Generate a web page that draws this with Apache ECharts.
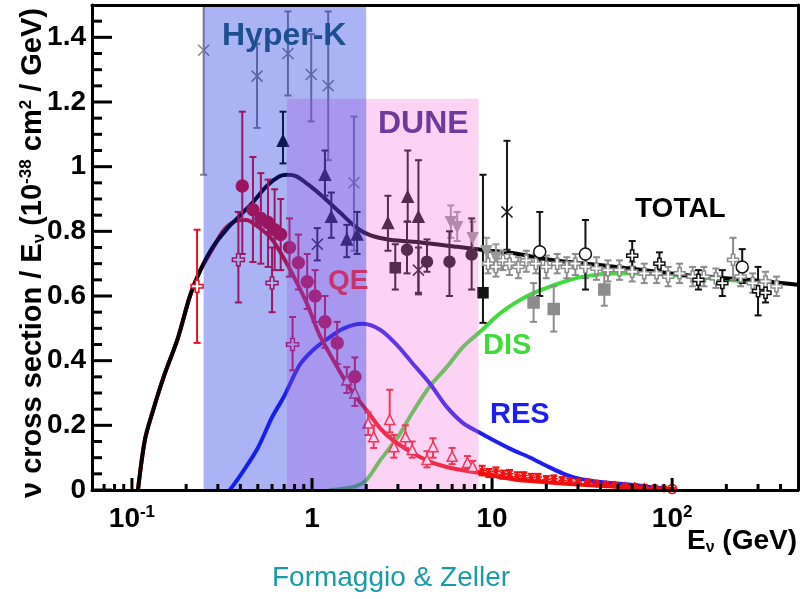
<!DOCTYPE html>
<html>
<head>
<meta charset="utf-8">
<script src="https://cdn.jsdelivr.net/npm/echarts@6/dist/echarts.min.js"></script>
<style>
  html, body { margin: 0; padding: 0; background: #fff; }
  #chart { width: 800px; height: 599px; }
</style>
</head>
<body>
<div id="chart"></div>
<script>
var FONT = '"Liberation Sans", Arial, sans-serif';

// axis ranges and ticks
var xMin = 0.06, xMax = 500, yMin = 0, yMax = 1.5;
var xMajorTicks = [0.1, 1, 10, 100];
var xMajorLabels = ['{b|10}{s|-1}', '{b|1}', '{b|10}', '{b|10}{s|2}'];
var xMinorTicks = [0.07, 0.08, 0.09, 0.2, 0.3, 0.4, 0.5, 0.6, 0.7, 0.8, 0.9,
  2, 3, 4, 5, 6, 7, 8, 9, 20, 30, 40, 50, 60, 70, 80, 90, 200, 300, 400];
var yMajorTicks = [0, 0.2, 0.4, 0.6, 0.8, 1, 1.2, 1.4];
var yMinorTicks = [0.05, 0.1, 0.15, 0.25, 0.3, 0.35, 0.45, 0.5, 0.55, 0.65, 0.7, 0.75,
  0.85, 0.9, 0.95, 1.05, 1.1, 1.15, 1.25, 1.3, 1.35, 1.45];

// experiment ranges (GeV): low, high, top of box
var hyperK = [0.25, 2.0, 1.5];
var dune = [0.725, 8.4, 1.21];

// model curves
var totE = [0.108, 0.118, 0.13, 0.15, 0.18, 0.21, 0.24, 0.28, 0.34, 0.4, 0.47, 0.56, 0.66, 0.73, 0.82, 0.95, 1.15, 1.43, 1.78, 2.1, 2.7, 4.1, 6.4, 9.7, 13, 21, 49, 112, 262, 500];
var totY = [0, 0.155, 0.24, 0.35, 0.47, 0.6, 0.68, 0.75, 0.81, 0.85, 0.89, 0.94, 0.97, 0.975, 0.97, 0.945, 0.907, 0.858, 0.81, 0.788, 0.774, 0.765, 0.752, 0.74, 0.733, 0.712, 0.69, 0.666, 0.65, 0.635];

var qeE = [0.108, 0.118, 0.13, 0.15, 0.18, 0.21, 0.24, 0.28, 0.32, 0.37, 0.43, 0.5, 0.6, 0.7, 0.8, 0.94, 1.1, 1.35, 1.6, 1.8, 2.0, 2.4, 2.8, 3.6, 4.5, 5.6, 7, 8.6, 11, 14, 20, 30, 50, 70, 100];
var qeY = [0, 0.155, 0.24, 0.35, 0.47, 0.6, 0.68, 0.745, 0.8, 0.83, 0.835, 0.815, 0.775, 0.715, 0.655, 0.575, 0.48, 0.39, 0.32, 0.28, 0.248, 0.19, 0.155, 0.115, 0.088, 0.071, 0.06, 0.052, 0.04, 0.031, 0.024, 0.017, 0.01, 0.005, 0.002];

var resE = [0.35, 0.4, 0.5, 0.6, 0.7, 0.85, 1.0, 1.2, 1.5, 1.9, 2.4, 3, 3.6, 4.5, 5.6, 6.9, 8.6, 10.5, 13, 16, 20, 25, 30, 40, 55, 70, 85, 100];
var resY = [0, 0.045, 0.13, 0.225, 0.29, 0.385, 0.43, 0.465, 0.5, 0.514, 0.495, 0.445, 0.393, 0.33, 0.257, 0.207, 0.176, 0.15, 0.124, 0.102, 0.075, 0.05, 0.036, 0.025, 0.018, 0.012, 0.006, 0];

var disE = [1.25, 1.5, 1.75, 2, 2.4, 3, 3.6, 4.5, 5.6, 6.9, 8.6, 11, 14, 18, 27, 35, 50, 80, 130, 200, 300];
var disY = [0, 0.004, 0.012, 0.03, 0.093, 0.164, 0.238, 0.32, 0.38, 0.443, 0.49, 0.545, 0.585, 0.615, 0.65, 0.663, 0.67, 0.668, 0.66, 0.65, 0.642];

// measurements: [E, value, low, high]
var grayX = [[0.25, 1.36, 0.975, 1.5], [0.495, 1.28, 1.12, 1.38], [0.735, 1.35, 1.22, 1.48], [0.99, 1.285, 1.14, 1.41], [1.23, 1.25, 1.02, 1.48], [1.71, 0.95, 0.74, 1.155]];
var blackX = [[1.07, 0.76, 0.71, 0.81], [3.9, 0.68, 0.605, 0.75], [12.1, 0.86, 0.743, 1.08]];
var blackTri = [[0.69, 1.08, 1.01, 1.17], [1.18, 0.975, 0.91, 1.05], [1.28, 0.845, 0.78, 0.92], [1.56, 0.775, 0.72, 0.82], [1.78, 0.79, 0.73, 0.86], [2.64, 0.826, 0.74, 0.91], [3.4, 0.907, 0.83, 1.05], [3.9, 0.845, 0.61, 1.02]];
var blackDot = [[3.37, 0.743, 0.67, 0.83], [4.35, 0.706, 0.675, 0.775], [5.8, 0.706, 0.6, 0.8], [7.7, 0.728, 0.62, 0.84]];
var blackSq = [[2.9, 0.687, 0.62, 0.76], [8.9, 0.61, 0.517, 0.975]];
var grayTriDown = [[5.9, 0.83, 0.78, 0.88], [6.4, 0.814, 0.77, 0.86], [7.8, 0.78, 0.73, 0.83], [9.3, 0.74, 0.7, 0.78], [10.5, 0.72, 0.68, 0.76]];
var graySq = [[17, 0.58, 0.52, 0.64], [22, 0.56, 0.49, 0.63], [42, 0.62, 0.57, 0.68]];
var openCircle = [[18.4, 0.737, 0.6, 0.86], [33, 0.73, 0.62, 0.835], [245, 0.69, 0.64, 0.745]];
var grayCross = [[9.5, 0.7, 0.67, 0.74], [10.5, 0.69, 0.66, 0.72], [11.5, 0.71, 0.68, 0.74], [12.5, 0.7, 0.665, 0.73], [14, 0.69, 0.655, 0.72], [15.5, 0.71, 0.675, 0.74], [17.5, 0.7, 0.67, 0.73], [20, 0.69, 0.655, 0.725], [23, 0.7, 0.67, 0.73], [26, 0.69, 0.655, 0.72], [29, 0.7, 0.665, 0.73], [33, 0.69, 0.655, 0.72], [38, 0.685, 0.65, 0.72], [44, 0.68, 0.645, 0.71], [51, 0.68, 0.65, 0.71], [60, 0.675, 0.645, 0.705], [70, 0.67, 0.64, 0.7], [82, 0.67, 0.64, 0.7], [95, 0.66, 0.63, 0.69], [110, 0.67, 0.64, 0.7], [130, 0.66, 0.63, 0.69], [150, 0.66, 0.63, 0.69], [175, 0.655, 0.625, 0.685], [218, 0.712, 0.65, 0.78], [240, 0.66, 0.63, 0.69], [280, 0.64, 0.61, 0.67], [330, 0.645, 0.615, 0.675], [380, 0.63, 0.6, 0.66]];
var blackCross = [[60, 0.725, 0.69, 0.77], [85, 0.7, 0.665, 0.735], [140, 0.65, 0.62, 0.68], [190, 0.64, 0.6, 0.68], [300, 0.615, 0.54, 0.69], [330, 0.61, 0.58, 0.65]];
var qeDot = [[0.41, 0.94, 0.73, 1.17], [0.47, 0.867, 0.705, 1.03], [0.52, 0.84, 0.7, 0.98], [0.57, 0.827, 0.69, 0.96], [0.62, 0.805, 0.68, 0.93], [0.67, 0.79, 0.68, 0.9], [0.75, 0.75, 0.66, 0.84], [0.84, 0.703, 0.62, 0.79], [0.94, 0.644, 0.56, 0.73], [1.04, 0.6, 0.52, 0.68], [1.18, 0.52, 0.44, 0.6], [1.38, 0.455, 0.39, 0.52], [1.73, 0.35, 0.29, 0.41]];
var qeCross = [[0.23, 0.63, 0.455, 0.805], [0.39, 0.712, 0.58, 0.86], [0.6, 0.64, 0.55, 0.75], [0.78, 0.45, 0.37, 0.535]];
var qeTri = [[1.56, 0.34, 0.3, 0.38], [1.73, 0.3, 0.26, 0.34], [2.05, 0.207, 0.17, 0.24], [2.2, 0.165, 0.13, 0.2], [2.7, 0.218, 0.178, 0.31], [2.85, 0.134, 0.1, 0.17], [3.3, 0.165, 0.13, 0.2], [3.6, 0.125, 0.1, 0.15], [4.35, 0.094, 0.07, 0.12], [4.7, 0.134, 0.1, 0.16], [6.0, 0.104, 0.08, 0.13], [7.3, 0.085, 0.065, 0.105], [7.8, 0.073, 0.055, 0.09]];
var qeStar = [[8.8, 0.06, 0.045, 0.075], [9.6, 0.052, 0.04, 0.065], [10.5, 0.058, 0.045, 0.07], [11.5, 0.048, 0.035, 0.06], [12.5, 0.05, 0.04, 0.062], [13.8, 0.042, 0.03, 0.055], [15, 0.045, 0.035, 0.055], [16.5, 0.038, 0.028, 0.05], [18, 0.04, 0.03, 0.05], [20, 0.033, 0.024, 0.043], [22, 0.035, 0.025, 0.045], [24.5, 0.03, 0.02, 0.04], [27, 0.028, 0.02, 0.036], [30, 0.025, 0.017, 0.033], [34, 0.024, 0.016, 0.032], [38, 0.02, 0.013, 0.027], [43, 0.018, 0.012, 0.025], [48, 0.016, 0.01, 0.022], [55, 0.013, 0.008, 0.019], [62, 0.012, 0.007, 0.017], [70, 0.01, 0.005, 0.015], [80, 0.008, 0.004, 0.012], [90, 0.005, 0.002, 0.009]];
var qeOpenCircle = [[100, 0.003, 0, 0.006]];

var SYM_X = 'path://M0,0L10,10M10,0L0,10';
var SYM_CROSS = 'path://M3.5,0H6.5V3.5H10V6.5H6.5V10H3.5V6.5H0V3.5H3.5Z';
var SYM_STAR = 'path://M5,0V10M0,5H10M1.5,1.5L8.5,8.5M8.5,1.5L1.5,8.5';

function pairs(xs, ys) {
  return xs.map(function (x, i) { return [x, ys[i]]; });
}

function curve(xs, ys, color) {
  return {
    type: 'line', data: pairs(xs, ys), smooth: 0.3,
    symbol: 'none', silent: true, z: 2,
    lineStyle: { color: color, width: 4 }
  };
}

function errorBars(pts, color) {
  return {
    type: 'custom', data: pts, silent: true, z: 3,
    encode: { x: 0, y: 1 },
    renderItem: function (params, api) {
      var e = api.value(0);
      var lo = api.coord([e, api.value(2)]);
      var hi = api.coord([e, api.value(3)]);
      var st = { stroke: color, lineWidth: 2 };
      return {
        type: 'group', children: [
          { type: 'line', shape: { x1: lo[0], y1: lo[1], x2: hi[0], y2: hi[1] }, style: st },
          { type: 'line', shape: { x1: lo[0] - 3.5, y1: lo[1], x2: lo[0] + 3.5, y2: lo[1] }, style: st },
          { type: 'line', shape: { x1: hi[0] - 3.5, y1: hi[1], x2: hi[0] + 3.5, y2: hi[1] }, style: st }
        ]
      };
    }
  };
}

function markers(pts, symbol, size, fill, stroke) {
  return {
    type: 'scatter', silent: true, z: 3,
    data: pts.map(function (p) { return [p[0], p[1]]; }),
    symbol: symbol, symbolSize: size,
    itemStyle: { color: fill, borderColor: stroke, borderWidth: 1.5, opacity: 1 }
  };
}

function band(b, color, z) {
  return {
    type: 'custom', data: [b], silent: true, z: z,
    encode: { x: [0, 1], y: 2 },
    renderItem: function (params, api) {
      var a = api.coord([api.value(0), api.value(2)]);
      var c = api.coord([api.value(1), 0]);
      return {
        type: 'rect',
        shape: { x: a[0], y: a[1], width: c[0] - a[0], height: c[1] - a[1] },
        style: { fill: color }
      };
    }
  };
}

// inward axis ticks (ROOT style), placed through the axis scales
function xTicks(vals, len) {
  return {
    type: 'custom', silent: true, z: 6,
    data: vals.map(function (v) { return [v, 0.7]; }),
    encode: { x: 0, y: 1 },
    renderItem: function (params, api) {
      var c = api.coord([api.value(0), yMin]);
      return {
        type: 'group', children: [
          { type: 'line', shape: { x1: c[0], y1: c[1], x2: c[0], y2: c[1] - len }, style: { stroke: '#000000', lineWidth: 3 } }
        ]
      };
    }
  };
}
function yTicks(vals, len) {
  return {
    type: 'custom', silent: true, z: 6,
    data: vals.map(function (v) { return [1, v]; }),
    encode: { x: 0, y: 1 },
    renderItem: function (params, api) {
      var c = api.coord([xMin, api.value(1)]);
      return {
        type: 'group', children: [
          { type: 'line', shape: { x1: c[0], y1: c[1], x2: c[0] + len, y2: c[1] }, style: { stroke: '#000000', lineWidth: 3 } }
        ]
      };
    }
  };
}

function label(text, x, y, size, color, align) {
  return {
    type: 'text', x: x, y: y, z: 10, silent: true,
    style: {
      text: text, fill: color, fontSize: size, fontWeight: 'bold', fontFamily: FONT,
      align: align || 'left', verticalAlign: 'middle'
    }
  };
}

var series = [
  curve(disE, disY, '#3ddc3a'),
  curve(resE, resY, '#1e1ef0'),
  curve(qeE, qeY, '#ee1111'),
  curve(totE, totY, '#000000')
];

var groups = [
  [grayX, SYM_X, 11, 'transparent', '#888888'],
  [blackX, SYM_X, 11, 'transparent', '#1a1a1a'],
  [grayTriDown, 'path://M0,0H10L5,9Z', 10, '#999999', '#999999'],
  [graySq, 'rect', 11, '#8c8c8c', '#8c8c8c'],
  [grayCross, SYM_CROSS, 11, '#ffffff', '#8c8c8c'],
  [blackCross, SYM_CROSS, 11, '#ffffff', '#111111'],
  [openCircle, 'circle', 12, '#ffffff', '#111111'],
  [blackTri, 'triangle', 11, '#111111', '#111111'],
  [blackDot, 'circle', 11, '#111111', '#111111'],
  [blackSq, 'rect', 10, '#111111', '#111111'],
  [qeCross, SYM_CROSS, 12, '#ffffff', '#e8101e'],
  [qeDot, 'circle', 12, '#e8101e', '#e8101e'],
  [qeTri, 'triangle', 10, '#ffffff', '#f02020'],
  [qeStar, SYM_STAR, 8, 'transparent', '#f01010'],
  [qeOpenCircle, 'circle', 9, 'transparent', '#f01010']
];
groups.forEach(function (g) {
  series.push(errorBars(g[0], g[4]));
  series.push(markers(g[0], g[1], g[2], g[3], g[4]));
});

series.push(band(dune, 'rgba(245,110,220,0.3)', 4));
series.push(band(hyperK, 'rgba(5,34,225,0.34)', 5));
series.push(xTicks(xMajorTicks, 12));
series.push(xTicks(xMinorTicks, 6));
series.push(yTicks(yMajorTicks, 20));
series.push(yTicks(yMinorTicks, 10));

var chart = echarts.init(document.getElementById('chart'));
chart.setOption({
  animation: false,
  backgroundColor: '#ffffff',
  grid: { left: 92, right: 2, top: 5, bottom: 109, containLabel: false },
  xAxis: [
    {
      type: 'log', min: xMin, max: xMax, position: 'bottom', z: 10,
      axisLine: { show: true, onZero: false, lineStyle: { color: '#000', width: 3 } },
      axisTick: { show: false },
      axisLabel: {
        margin: 14, showMinLabel: false, showMaxLabel: false,
        formatter: function (v) {
          for (var i = 0; i < xMajorTicks.length; i++) {
            if (Math.abs(Math.log10(v) - Math.log10(xMajorTicks[i])) < 1e-6) return xMajorLabels[i];
          }
          return '';
        },
        rich: {
          b: { fontSize: 28, fontWeight: 'bold', fontFamily: FONT, color: '#000', lineHeight: 30 },
          s: { fontSize: 17, fontWeight: 'bold', fontFamily: FONT, color: '#000', verticalAlign: 'top', lineHeight: 16 }
        }
      },
      splitLine: { show: false }
    },
    {
      type: 'log', min: xMin, max: xMax, position: 'top', z: 10,
      axisLine: { show: true, onZero: false, lineStyle: { color: '#000', width: 3 } },
      axisTick: { show: false }, axisLabel: { show: false }, splitLine: { show: false }
    }
  ],
  yAxis: [
    {
      type: 'value', min: yMin, max: yMax, interval: 0.2, position: 'left', z: 10,
      axisLine: { show: true, onZero: false, lineStyle: { color: '#000', width: 3 } },
      axisTick: { show: false },
      axisLabel: {
        margin: 6, padding: [8, 0, 0, 0], showMaxLabel: false,
        fontSize: 28, fontWeight: 'bold', fontFamily: FONT, color: '#000'
      },
      splitLine: { show: false }
    },
    {
      type: 'value', min: yMin, max: yMax, position: 'right', z: 10,
      axisLine: { show: true, onZero: false, lineStyle: { color: '#000', width: 3 } },
      axisTick: { show: false }, axisLabel: { show: false }, splitLine: { show: false }
    }
  ],
  series: series,
  graphic: [
    label('Hyper-K', 222, 36, 32, '#1f4f8f'),
    label('DUNE', 378, 124, 32, '#6b3c9c'),
    label('TOTAL', 635, 209, 28, '#000000'),
    label('QE', 328, 281, 28, '#c8336e'),
    label('DIS', 483, 346, 29, '#3ddc3a'),
    label('RES', 490, 415, 29, '#1e1ef0'),
    {
      type: 'text', x: 797, y: 541, z: 10, silent: true,
      style: {
        text: '{b|E}{sub|ν}{b| (GeV)}', align: 'right', verticalAlign: 'middle',
        rich: {
          b: { fontSize: 28, fontWeight: 'bold', fontFamily: FONT, fill: '#000', lineHeight: 30 },
          sub: { fontSize: 16, fontWeight: 'bold', fontFamily: FONT, fill: '#000', verticalAlign: 'bottom', lineHeight: 22 }
        }
      }
    },
    {
      type: 'text', x: 33, y: 253, z: 10, silent: true, rotation: Math.PI / 2,
      style: {
        text: '{t|ν cross section / E}{sub|ν}{t| (10}{sup|-38}{t| cm}{sup|2}{t| / GeV)}',
        align: 'center', verticalAlign: 'middle',
        rich: {
          t: { fontSize: 29, fontWeight: 'bold', fontFamily: FONT, fill: '#000', lineHeight: 30 },
          sub: { fontSize: 17, fontWeight: 'bold', fontFamily: FONT, fill: '#000', verticalAlign: 'bottom', lineHeight: 22 },
          sup: { fontSize: 17, fontWeight: 'bold', fontFamily: FONT, fill: '#000', verticalAlign: 'top', lineHeight: 16 }
        }
      }
    },
    {
      type: 'text', x: 391, y: 578, z: 10, silent: true,
      style: {
        text: 'Formaggio & Zeller', fill: '#1a9aa8', fontSize: 28, fontFamily: FONT,
        align: 'center', verticalAlign: 'middle'
      }
    }
  ]
});
</script>
</body>
</html>
